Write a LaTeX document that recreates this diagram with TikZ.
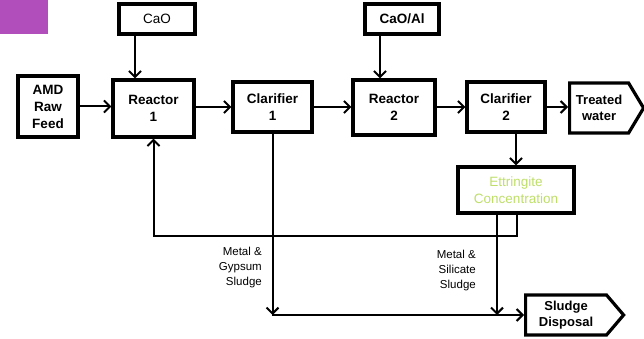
\documentclass[tikz,border=0pt]{standalone}
\usepackage{fontspec}
\setmainfont{Liberation Sans}
\usetikzlibrary{arrows.meta,shapes.symbols}
\definecolor{tabpurple}{RGB}{178,78,188}
\definecolor{ettgreen}{RGB}{190,222,105}
\begin{document}
\begin{tikzpicture}[x=1pt,y=-1pt,line cap=rect,
    >={Straight Barb[length=6pt,width=12pt,line width=2pt]},
    unit/.style={draw,line width=3.2pt,align=center,inner sep=0pt,
      font=\fontsize{13.5}{17}\selectfont\bfseries},
    feed/.style={draw,line width=3.2pt,inner sep=0pt,font=\fontsize{13.5}{16}\selectfont},
    outlet/.style={unit,shape=signal,signal to=east,signal from=nowhere},
    flow/.style={line width=2pt},
    note/.style={align=right,inner sep=0pt,font=\fontsize{11.5}{15}\selectfont}]
  \useasboundingbox (0,0) rectangle (644,339);
  \fill[tabpurple] (0,0) rectangle (48,34);
  % chemical dosing
  \node[feed,minimum width=76pt,minimum height=30pt] (cao) at (157,19) {CaO};
  \node[feed,font=\fontsize{13.5}{16}\selectfont\bfseries,minimum width=74pt,minimum height=30pt] (caoal) at (402,19) {CaO/Al};
  % main line
  \node[unit,minimum width=60pt,minimum height=61pt] (amd) at (48,106.5) {AMD\\Raw\\Feed};
  \node[unit,minimum width=81pt,minimum height=57pt] (r1) at (153.5,108.5) {Reactor\\1};
  \node[unit,minimum width=79pt,minimum height=50pt] (c1) at (272.5,107) {Clarifier\\1};
  \node[unit,minimum width=82pt,minimum height=55pt] (r2) at (394,107.5) {Reactor\\2};
  \node[unit,minimum width=78pt,minimum height=50pt] (c2) at (506,107) {Clarifier\\2};
  \node[outlet,font=\fontsize{13}{16}\selectfont\bfseries,minimum width=74pt,minimum height=50pt,signal pointer angle=118,anchor=west] (water) at (568,108) {Treated\\water};
  \node[unit,font=\fontsize{13.5}{17}\selectfont,text=ettgreen,minimum width=116pt,minimum height=46pt] (ett) at (516,190) {Ettringite\\Concentration};
  \node[outlet,font=\fontsize{13}{16}\selectfont\bfseries,minimum width=98pt,minimum height=40pt,signal pointer angle=99,anchor=west] (disp) at (524,315) {Sludge\\Disposal};
  \coordinate (sj1) at (c1.south |- disp.west);
  \coordinate (sj2) at ([xshift=-19pt]ett.south |- disp.west);
  % arrows
  \draw[flow,->] ([xshift=-22pt]cao.south) -- ([xshift=-22pt]cao.south |- r1.north);
  \draw[flow,->] ([xshift=-22pt]caoal.south) -- ([xshift=-22pt]caoal.south |- r2.north);
  \draw[flow,->] (amd.east) -- (amd.east -| r1.west);
  \draw[flow,->] (r1.east |- c1) -- (c1.west);
  \draw[flow,->] (c1.east) -- (c1.east -| r2.west);
  \draw[flow,->] (r2.east |- c2) -- (c2.west);
  \draw[flow,->] (c2.east) -- (c2.east -| water.west);
  \draw[flow,->] (ett.north |- c2.south) -- (ett.north);
  % recycle and sludge
  \draw[flow,->] ([xshift=1pt]ett.south) -- ++(0,21) -| (r1.south);
  \draw[flow,->] (c1.south) -- (sj1);
  \draw[flow,->] (sj1) -- (disp.west);
  \draw[flow,->] ([xshift=-19pt]ett.south) -- (sj2);
  \node[note,anchor=east] (gyp) at (262,268) {Metal \&\\Gypsum\\Sludge};
  \node[note,anchor=east] (sil) at (476,271) {Metal \&\\Silicate\\Sludge};
\end{tikzpicture}
\end{document}
